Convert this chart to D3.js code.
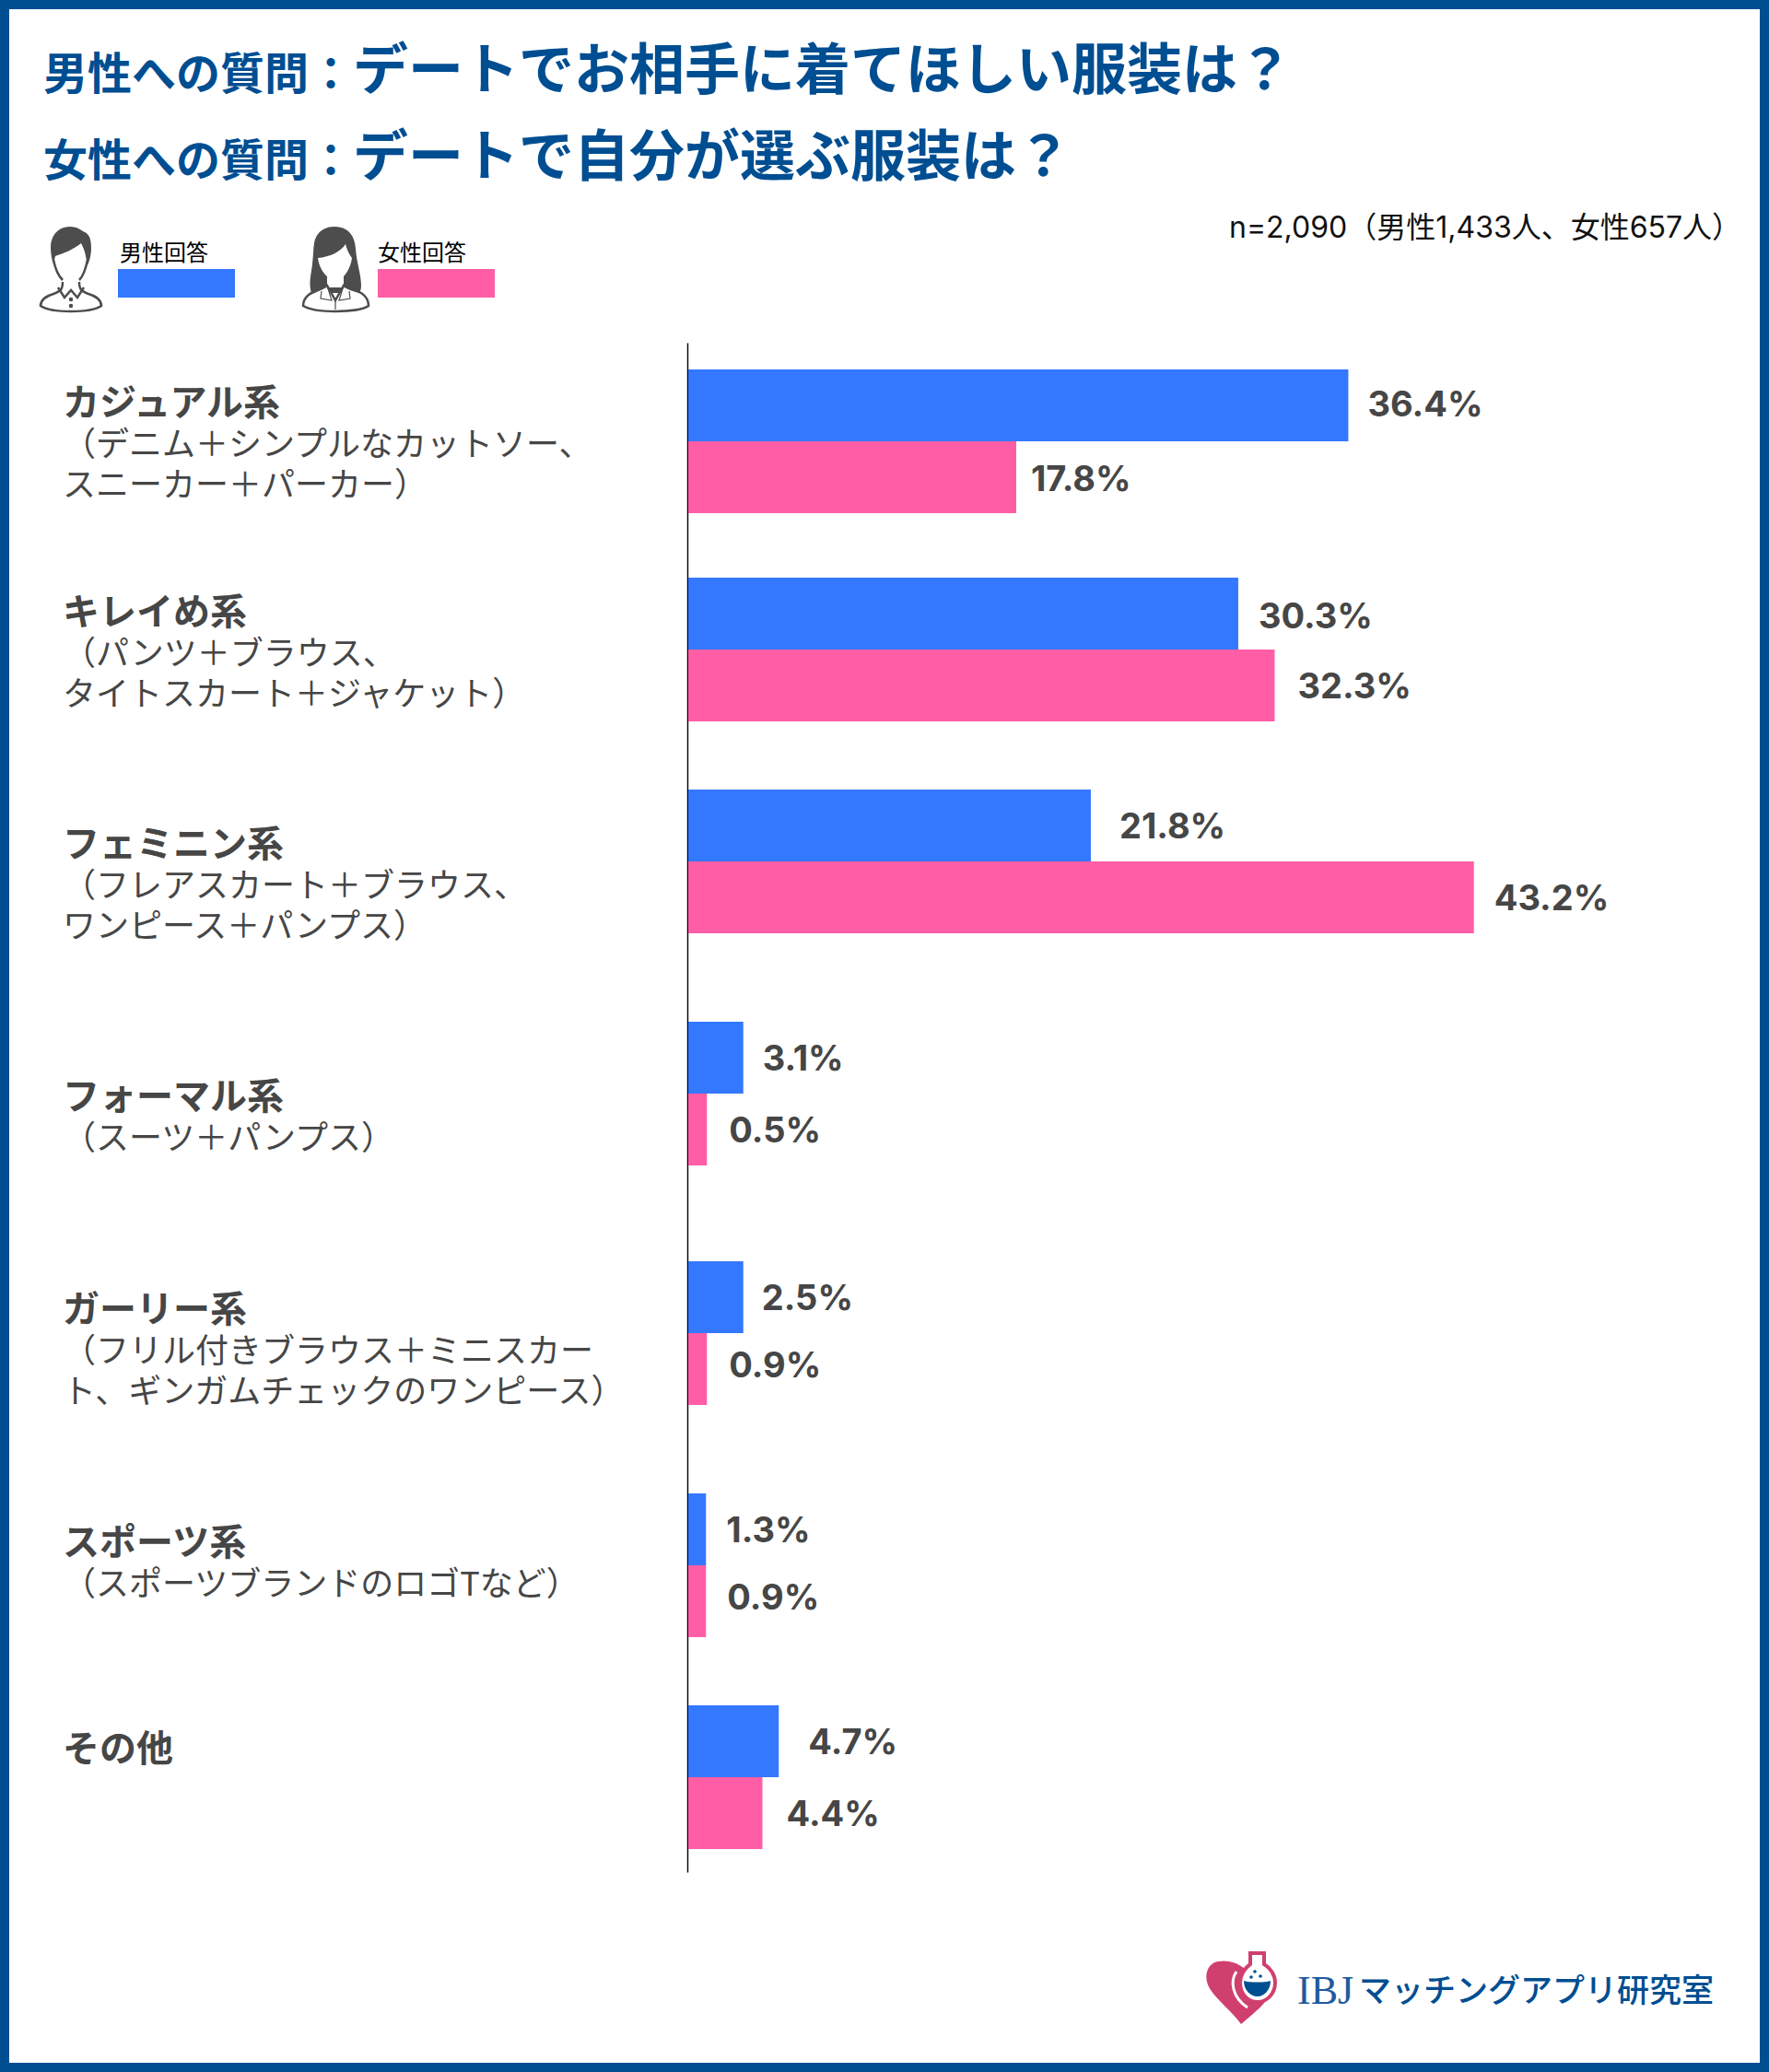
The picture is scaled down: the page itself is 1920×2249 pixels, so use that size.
<!DOCTYPE html>
<html lang="ja">
<head>
<meta charset="utf-8">
<title>デートの服装</title>
<script src="https://cdnjs.cloudflare.com/ajax/libs/d3/7.8.5/d3.min.js"></script>
<style>
	html, body { margin: 0; padding: 0; background: #fff; }
	svg { display: block; }
	text { font-family: "Noto Sans CJK JP", sans-serif; }
	.value { font-family: Inter, "Noto Sans CJK JP", sans-serif; font-weight: 700; font-size: 38px; fill: #464646; }
</style>
</head>
<body>
<div id="chart"></div>
<script>
const categories = ["カジュアル系", "キレイめ系", "フェミニン系", "フォーマル系", "ガーリー系", "スポーツ系", "その他"]
const categoryNotes = [
	["（デニム＋シンプルなカットソー、", "スニーカー＋パーカー）"],
	["（パンツ＋ブラウス、", "タイトスカート＋ジャケット）"],
	["（フレアスカート＋ブラウス、", "ワンピース＋パンプス）"],
	["（スーツ＋パンプス）"],
	["（フリル付きブラウス＋ミニスカー", "ト、ギンガムチェックのワンピース）"],
	["（スポーツブランドのロゴTなど）"],
	[],
]
const series = ["男性回答", "女性回答"]
// printed percentages
const maleValues = [36.4, 30.3, 21.8, 3.1, 2.5, 1.3, 4.7]
const femaleValues = [17.8, 32.3, 43.2, 0.5, 0.9, 0.9, 4.4]
// bar lengths: the short bars are drawn longer than their printed value
const maleBars = [36.3, 30.25, 22.15, 3.05, 3.05, 1, 5]
const femaleBars = [18.05, 32.25, 43.2, 1.05, 1.05, 1, 4.1]

const titleLines = [
	["男性への質問：", "デートでお相手に着てほしい服装は？"],
	["女性への質問：", "デートで自分が選ぶ服装は？"],
]
const sampleNote = "n=2,090（男性1,433人、女性657人）"

const width = 1920
const height = 2249
const navy = "#004e92"
const colors = { 男性回答: "#3478ff", 女性回答: "#ff5ea6" }
const textGray = "#464646"

const svg = d3.select("#chart").append("svg").attr("width", width).attr("height", height)

svg.append("rect")
	.attr("x", 5)
	.attr("y", 5)
	.attr("width", width - 10)
	.attr("height", height - 10)
	.attr("fill", "#fff")
	.attr("stroke", navy)
	.attr("stroke-width", 10)

// heading
const titles = svg.selectAll(".title")
	.data(titleLines)
	.enter()
	.append("text")
	.attr("class", "title")
	.attr("x", 47)
	.attr("y", (d, i) => 97 + i * 94)
	.attr("fill", navy)
	.attr("font-weight", 700)
titles.append("tspan").attr("font-size", 48).text(d => d[0])
titles.append("tspan").attr("font-size", 60).text(d => d[1])

svg.append("text")
	.attr("x", 1334)
	.attr("y", 258)
	.attr("font-size", 32)
	.attr("fill", "#111")
	.style("font-family", 'Inter, "Noto Sans CJK JP", sans-serif')
	.text(sampleNote)

// legend
const legendX = d3.scalePoint().domain(series).range([128, 410])
const legend = svg.selectAll(".legend")
	.data(series)
	.enter()
	.append("g")
	.attr("class", "legend")
	.attr("transform", d => `translate(${legendX(d)},0)`)
legend.append("rect")
	.attr("y", 292)
	.attr("width", 127)
	.attr("height", 31)
	.attr("fill", d => colors[d])
legend.append("text")
	.attr("x", (d, i) => 2 - i * 2)
	.attr("y", 283)
	.attr("font-size", 24)
	.attr("fill", "#000")
	.text(d => d)

function drawPeople() {
	const g = svg.append("g").attr("fill", "none").attr("stroke", "#4d4d4d").attr("stroke-width", 2.5)
	// man
	g.append("path").attr("d", "M68 306 C68 314 66 316 58 319 C48 322 44 326 44 332 C50 336 62 338 77 338 C92 338 104 336 110 332 C110 326 106 322 96 319 C88 316 86 314 86 306 M58 282 C60 292 64 300 68 304 M95 282 C93 292 90 300 86 304 M63 312 L70 323 L77 315 L84 323 L91 312")
	g.append("path")
		.attr("fill", "#4d4d4d")
		.attr("stroke", "none")
		.attr("d", "M76 246 C84 246 88 250 92 252 C98 255 99 262 99 270 C99 276 97 284 95 288 L93 278 C92 272 90 268 88 264 C80 271 66 276 60 278 L58 286 C56 282 55 274 55 268 C55 256 63 246 76 246 Z")
	g.append("circle").attr("cx", 77).attr("cy", 325).attr("r", 1).attr("fill", "#4d4d4d")
	g.append("circle").attr("cx", 77).attr("cy", 332).attr("r", 1).attr("fill", "#4d4d4d")
	// woman
	g.append("path")
		.attr("fill", "#4d4d4d")
		.attr("stroke", "none")
		.attr("d", "M363 246 C378 246 385 256 386 270 C387 285 392 298 392 310 C392 316 390 318 388 318 L338 318 C336 312 336 304 338 294 C340 282 340 270 341 264 C343 252 352 246 363 246 Z")
	g.append("path")
		.attr("fill", "#fff")
		.attr("stroke", "none")
		.attr("d", "M345 280 C358 279 370 273 375 265 C377 272 379 276 382 280 C381 288 377 296 373 300 L373 312 L355 312 L355 300 C350 296 346 288 345 280 Z")
	g.append("path")
		.attr("fill", "#fff")
		.attr("d", "M355 310 C350 314 340 316 335 320 C330 324 329 328 329 332 C336 336 350 338 364 338 C378 338 394 336 400 332 C400 326 398 322 392 318 C386 315 378 314 373 310 L364 326 Z")
	g.append("path")
		.attr("stroke-width", 1.2)
		.attr("d", "M349 316 L348 324 L360 326 L355 310 M379 316 L380 324 L368 326 L373 310 M364 326 L364 336")
}
drawPeople()

// bars
const x = d3.scaleLinear().domain([0, 45]).range([746.5, 746.5 + 45 * 19.75])
// the reference spaces its rows unevenly, so the row scale takes the spacing as its range
const y0 = d3.scaleOrdinal().domain(categories).range([401, 627, 857, 1109, 1369, 1621, 1851])
const y1 = d3.scaleBand().domain(series).range([0, 156])
const noteY = d3.scaleOrdinal().domain(categories).range([451, 678, 930, 1204, 1435, 1688, 1912])
// the value labels sit by hand in the reference: gap after the bar end, shift from the bar middle
const labelGap = { 男性回答: [21, 22, 31, 21, 20, 22, 32], 女性回答: [16, 25, 22, 24, 24, 23, 26] }
const labelLift = { 男性回答: [-2, 2, 0, 0, 0, 0, 0], 女性回答: [1, 0, 0, 0, -5, -5, 0] }

const axisScale = d3.scaleLinear().range([372, 2032])
svg.append("g")
	.attr("transform", `translate(${x(0) - 0.5},0)`)
	.call(d3.axisLeft(axisScale).ticks(0).tickSize(0))
	.select(".domain")
	.attr("stroke", "#000")
	.attr("stroke-width", 1.4)

const rows = categories.map((name, i) => ({
	name,
	notes: categoryNotes[i],
	bars: [
		{ key: series[0], value: maleValues[i], length: maleBars[i], i },
		{ key: series[1], value: femaleValues[i], length: femaleBars[i], i },
	],
}))

const row = svg.selectAll(".row")
	.data(rows)
	.enter()
	.append("g")
	.attr("class", "row")

const bar = row.selectAll(".bar")
	.data(d => d.bars.map(b => ({ ...b, top: y0(d.name) + y1(b.key) })))
	.enter()
	.append("g")
	.attr("class", "bar")
bar.append("rect")
	.attr("x", x(0) + 0.5)
	.attr("y", d => d.top)
	.attr("width", d => x(d.length) - x(0) - 0.5)
	.attr("height", y1.bandwidth())
	.attr("fill", d => colors[d.key])
bar.append("text")
	.attr("class", "value")
	.attr("x", d => x(d.length) + labelGap[d.key][d.i])
	.attr("y", d => d.top + y1.bandwidth() / 2 + labelLift[d.key][d.i])
	.attr("dy", "0.36em")
	.text(d => d3.format(".1f")(d.value) + "%")

// category labels
row.append("text")
	.attr("x", 68)
	.attr("y", d => noteY(d.name))
	.attr("font-size", 40)
	.attr("font-weight", 700)
	.attr("fill", textGray)
	.text(d => d.name)
row.selectAll(".note")
	.data(d => d.notes.map((t, i) => ({ t, i, name: d.name })))
	.enter()
	.append("text")
	.attr("class", "note")
	.attr("x", 68)
	.attr("y", d => noteY(d.name) + 44 + d.i * 44)
	.attr("font-size", 36)
	.attr("fill", textGray)
	.text(d => d.t)

// logo
const logo = svg.append("g")
logo.append("path")
	.attr("fill", "#d0406f")
	.attr("d", "M1347 2197 C1338 2184 1322 2172 1314 2160 C1305 2146 1310 2131 1322 2129 C1332 2127 1342 2130 1350 2136 L1380 2160 C1378 2172 1360 2186 1347 2197 Z")
logo.append("path")
	.attr("fill", "none")
	.attr("stroke", "#fff")
	.attr("stroke-width", 3)
	.attr("d", "M1342 2140 C1335 2150 1337 2168 1354 2179")
logo.append("path")
	.attr("fill", "#fff")
	.attr("stroke", "#d0406f")
	.attr("stroke-width", 4)
	.attr("d", "M1357 2120 L1372 2120 L1372 2132 C1379 2136 1384 2144 1384 2152 C1384 2164 1375 2173 1365 2173 C1354 2173 1346 2164 1346 2152 C1346 2144 1351 2136 1357 2132 Z")
logo.append("path")
	.attr("fill", navy)
	.attr("d", "M1350 2150 C1356 2152 1373 2152 1379 2150 C1379 2160 1372 2167 1365 2167 C1357 2167 1350 2160 1350 2150 Z")
logo.selectAll(".bubble")
	.data([[1362, 2140], [1368, 2145], [1358, 2146]])
	.enter()
	.append("circle")
	.attr("class", "bubble")
	.attr("cx", d => d[0])
	.attr("cy", d => d[1])
	.attr("r", 1.8)
	.attr("fill", navy)
logo.append("text")
	.attr("x", 1408)
	.attr("y", 2175)
	.attr("font-size", 44)
	.attr("fill", "#1f5a9e")
	.style("font-family", '"Liberation Serif", serif')
	.text("IBJ")
logo.append("text")
	.attr("x", 1475)
	.attr("y", 2173)
	.attr("font-size", 35)
	.attr("font-weight", 500)
	.attr("fill", navy)
	.text("マッチングアプリ研究室")
</script>
</body>
</html>
